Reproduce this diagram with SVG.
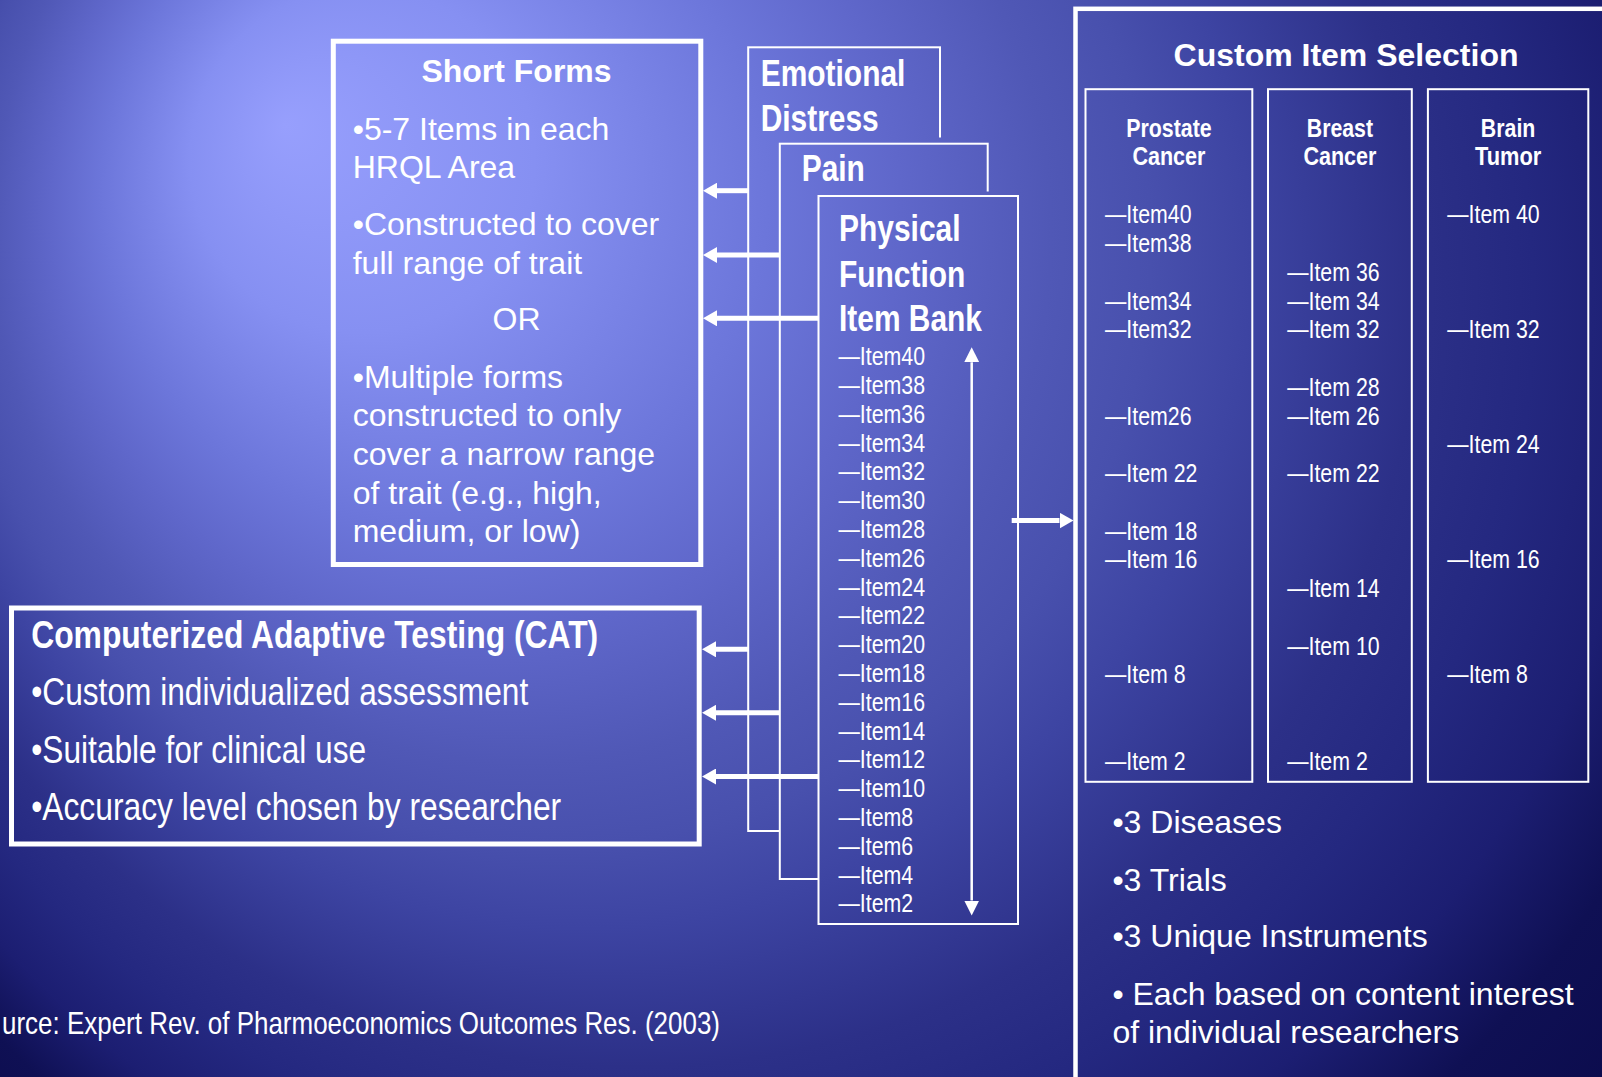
<svg xmlns="http://www.w3.org/2000/svg" width="1602" height="1077" viewBox="0 0 1602 1077">
  <defs>
    <!-- slide background: bright spot upper left, fading to navy -->
    <radialGradient id="bg" gradientUnits="userSpaceOnUse" cx="800" cy="360" r="1150" fx="285" fy="125">
      <stop offset="0" stop-color="#979ffd"/>
      <stop offset="0.15" stop-color="#8690f2"/>
      <stop offset="0.29" stop-color="#6c76da"/>
      <stop offset="0.37" stop-color="#5f67ca"/>
      <stop offset="0.46" stop-color="#5058b6"/>
      <stop offset="0.52" stop-color="#4850ad"/>
      <stop offset="0.58" stop-color="#3d44a2"/>
      <stop offset="0.68" stop-color="#2c3088"/>
      <stop offset="0.75" stop-color="#242880"/>
      <stop offset="0.82" stop-color="#1c1e72"/>
      <stop offset="0.89" stop-color="#0f1054"/>
      <stop offset="1" stop-color="#0a0a4a"/>
    </radialGradient>
    <marker id="head" viewBox="0 0 14 16" refX="0" refY="8" markerWidth="14" markerHeight="16" markerUnits="userSpaceOnUse" orient="auto">
      <path d="M0,0 L14,8 L0,16 Z" fill="#fff"/>
    </marker>
    <marker id="headThin" viewBox="0 0 15 15" refX="0" refY="7.5" markerWidth="15" markerHeight="15" markerUnits="userSpaceOnUse" orient="auto-start-reverse">
      <path d="M0,0 L15,7.5 L0,15 Z" fill="#fff"/>
    </marker>
    <style>
      .t{fill:#fff;font-family:"Liberation Sans",Arial,sans-serif;font-size:32px}
      .n{font-family:"Liberation Sans Narrow","Arial Narrow","Liberation Sans",sans-serif}
      .b{font-weight:bold}
      .c{text-anchor:middle}
      .item{font-size:26px}
      .head{font-size:36.5px}
      .sub{font-size:26px}
      .cat{font-size:38.5px}
      .thick{fill:none;stroke:#fff;stroke-width:5}
      .thin{fill:url(#bg);stroke:#fff;stroke-width:2}
      .box{fill:none;stroke:#fff;stroke-width:2}
      .mask{fill:url(#bg);stroke:none}
      .arrow{fill:none;stroke:#fff;stroke-width:5;marker-end:url(#head)}
    </style>
  </defs>

  <rect width="1602" height="1077" fill="url(#bg)"/>

  <!-- stacked item banks -->
  <g id="emotional-distress">
    <rect class="thin" x="748.2" y="47.3" width="191.8" height="783.7"/>
    <text class="t n b head" x="760.7" y="86" textLength="144.7" lengthAdjust="spacingAndGlyphs">Emotional</text>
    <text class="t n b head" x="760.7" y="131" textLength="118" lengthAdjust="spacingAndGlyphs">Distress</text>
  </g>

  <g id="pain">
    <rect class="mask" x="779.8" y="137.5" width="207.9" height="741.5"/>
    <rect class="thin" x="779.8" y="143.7" width="207.9" height="735.3"/>
    <text class="t n b head" x="801.7" y="180.7" textLength="63.2" lengthAdjust="spacingAndGlyphs">Pain</text>
  </g>

  <g id="physical-function">
    <rect class="mask" x="818.5" y="191.5" width="199.5" height="732.5"/>
    <rect class="thin" x="818.5" y="196" width="199.5" height="728"/>
    <text class="t n b head" x="839" y="240.7" textLength="121.5" lengthAdjust="spacingAndGlyphs">Physical</text>
    <text class="t n b head" x="839" y="286.7" textLength="126.4" lengthAdjust="spacingAndGlyphs">Function</text>
    <text class="t n b head" x="839" y="331" textLength="143" lengthAdjust="spacingAndGlyphs">Item Bank</text>
    <g class="t n item">
      <text x="838.5" y="365.2" textLength="86.5" lengthAdjust="spacingAndGlyphs">—Item40</text>
      <text x="838.5" y="394" textLength="86.5" lengthAdjust="spacingAndGlyphs">—Item38</text>
      <text x="838.5" y="422.8" textLength="86.5" lengthAdjust="spacingAndGlyphs">—Item36</text>
      <text x="838.5" y="451.6" textLength="86.5" lengthAdjust="spacingAndGlyphs">—Item34</text>
      <text x="838.5" y="480.4" textLength="86.5" lengthAdjust="spacingAndGlyphs">—Item32</text>
      <text x="838.5" y="509.2" textLength="86.5" lengthAdjust="spacingAndGlyphs">—Item30</text>
      <text x="838.5" y="538" textLength="86.5" lengthAdjust="spacingAndGlyphs">—Item28</text>
      <text x="838.5" y="566.8" textLength="86.5" lengthAdjust="spacingAndGlyphs">—Item26</text>
      <text x="838.5" y="595.6" textLength="86.5" lengthAdjust="spacingAndGlyphs">—Item24</text>
      <text x="838.5" y="624.4" textLength="86.5" lengthAdjust="spacingAndGlyphs">—Item22</text>
      <text x="838.5" y="653.2" textLength="86.5" lengthAdjust="spacingAndGlyphs">—Item20</text>
      <text x="838.5" y="682" textLength="86.5" lengthAdjust="spacingAndGlyphs">—Item18</text>
      <text x="838.5" y="710.8" textLength="86.5" lengthAdjust="spacingAndGlyphs">—Item16</text>
      <text x="838.5" y="739.6" textLength="86.5" lengthAdjust="spacingAndGlyphs">—Item14</text>
      <text x="838.5" y="768.4" textLength="86.5" lengthAdjust="spacingAndGlyphs">—Item12</text>
      <text x="838.5" y="797.2" textLength="86.5" lengthAdjust="spacingAndGlyphs">—Item10</text>
      <text x="838.5" y="826" textLength="74.6" lengthAdjust="spacingAndGlyphs">—Item8</text>
      <text x="838.5" y="854.8" textLength="74.6" lengthAdjust="spacingAndGlyphs">—Item6</text>
      <text x="838.5" y="883.6" textLength="74.6" lengthAdjust="spacingAndGlyphs">—Item4</text>
      <text x="838.5" y="912.4" textLength="74.6" lengthAdjust="spacingAndGlyphs">—Item2</text>
    </g>
  </g>

  <g id="short-forms">
    <rect class="thick" x="333.3" y="41.2" width="367.5" height="523.3"/>
    <text class="t b c" x="516.5" y="82.3">Short Forms</text>
    <text class="t" x="352.7" y="139.5">•5-7 Items in each</text>
    <text class="t" x="352.7" y="178">HRQL Area</text>
    <text class="t" x="352.7" y="234.9">•Constructed to cover</text>
    <text class="t" x="352.7" y="273.5">full range of trait</text>
    <text class="t c" x="516.5" y="330.3">OR</text>
    <text class="t" x="352.7" y="388">•Multiple forms</text>
    <text class="t" x="352.7" y="426">constructed to only</text>
    <text class="t" x="352.7" y="464.6">cover a narrow range</text>
    <text class="t" x="352.7" y="503.5">of trait (e.g., high,</text>
    <text class="t" x="352.7" y="542">medium, or low)</text>
  </g>

  <g id="cat">
    <rect class="thick" x="11.5" y="608" width="687.7" height="236"/>
    <text class="t n b cat" x="31.2" y="648.3" textLength="567" lengthAdjust="spacingAndGlyphs">Computerized Adaptive Testing (CAT)</text>
    <text class="t n cat" x="31.2" y="705" textLength="497" lengthAdjust="spacingAndGlyphs">•Custom individualized assessment</text>
    <text class="t n cat" x="31.2" y="762.7" textLength="335" lengthAdjust="spacingAndGlyphs">•Suitable for clinical use</text>
    <text class="t n cat" x="31.2" y="820" textLength="530" lengthAdjust="spacingAndGlyphs">•Accuracy level chosen by researcher</text>
  </g>

  <g id="custom-item-selection">
    <rect fill="none" stroke="#fff" stroke-width="4.5" x="1075.5" y="8.8" width="700" height="1200"/>
    <text class="t b c" x="1346" y="65.7">Custom Item Selection</text>

    <g id="prostate-cancer">
      <rect class="box" x="1085.5" y="89.2" width="166.8" height="692.6"/>
      <text class="t n b sub c" x="1168.9" y="136.7" textLength="85.5" lengthAdjust="spacingAndGlyphs">Prostate</text>
      <text class="t n b sub c" x="1168.9" y="165" textLength="73" lengthAdjust="spacingAndGlyphs">Cancer</text>
      <text class="t n item" x="1105" y="223.2" textLength="86.5" lengthAdjust="spacingAndGlyphs">—Item40</text>
      <text class="t n item" x="1105" y="252" textLength="86.5" lengthAdjust="spacingAndGlyphs">—Item38</text>
      <text class="t n item" x="1105" y="309.5" textLength="86.5" lengthAdjust="spacingAndGlyphs">—Item34</text>
      <text class="t n item" x="1105" y="338.2" textLength="86.5" lengthAdjust="spacingAndGlyphs">—Item32</text>
      <text class="t n item" x="1105" y="424.5" textLength="86.5" lengthAdjust="spacingAndGlyphs">—Item26</text>
      <text class="t n item" x="1105" y="482" textLength="92.4" lengthAdjust="spacingAndGlyphs">—Item 22</text>
      <text class="t n item" x="1105" y="539.6" textLength="92.4" lengthAdjust="spacingAndGlyphs">—Item 18</text>
      <text class="t n item" x="1105" y="568.3" textLength="92.4" lengthAdjust="spacingAndGlyphs">—Item 16</text>
      <text class="t n item" x="1105" y="683.4" textLength="80.6" lengthAdjust="spacingAndGlyphs">—Item 8</text>
      <text class="t n item" x="1105" y="769.6" textLength="80.6" lengthAdjust="spacingAndGlyphs">—Item 2</text>
    </g>

    <g id="breast-cancer">
      <rect class="box" x="1268" y="89.2" width="143.8" height="692.6"/>
      <text class="t n b sub c" x="1339.9" y="136.7" textLength="66.3" lengthAdjust="spacingAndGlyphs">Breast</text>
      <text class="t n b sub c" x="1339.9" y="165" textLength="73" lengthAdjust="spacingAndGlyphs">Cancer</text>
      <text class="t n item" x="1287.2" y="280.7" textLength="92.4" lengthAdjust="spacingAndGlyphs">—Item 36</text>
      <text class="t n item" x="1287.2" y="309.5" textLength="92.4" lengthAdjust="spacingAndGlyphs">—Item 34</text>
      <text class="t n item" x="1287.2" y="338.2" textLength="92.4" lengthAdjust="spacingAndGlyphs">—Item 32</text>
      <text class="t n item" x="1287.2" y="395.8" textLength="92.4" lengthAdjust="spacingAndGlyphs">—Item 28</text>
      <text class="t n item" x="1287.2" y="424.5" textLength="92.4" lengthAdjust="spacingAndGlyphs">—Item 26</text>
      <text class="t n item" x="1287.2" y="482" textLength="92.4" lengthAdjust="spacingAndGlyphs">—Item 22</text>
      <text class="t n item" x="1287.2" y="597.1" textLength="92.4" lengthAdjust="spacingAndGlyphs">—Item 14</text>
      <text class="t n item" x="1287.2" y="654.6" textLength="92.4" lengthAdjust="spacingAndGlyphs">—Item 10</text>
      <text class="t n item" x="1287.2" y="769.6" textLength="80.6" lengthAdjust="spacingAndGlyphs">—Item 2</text>
    </g>

    <g id="brain-tumor">
      <rect class="box" x="1427.9" y="89.2" width="160.4" height="692.6"/>
      <text class="t n b sub c" x="1508.1" y="136.7" textLength="54.5" lengthAdjust="spacingAndGlyphs">Brain</text>
      <text class="t n b sub c" x="1508.1" y="165" textLength="66.3" lengthAdjust="spacingAndGlyphs">Tumor</text>
      <text class="t n item" x="1447.3" y="223.2" textLength="92.4" lengthAdjust="spacingAndGlyphs">—Item 40</text>
      <text class="t n item" x="1447.3" y="338.2" textLength="92.4" lengthAdjust="spacingAndGlyphs">—Item 32</text>
      <text class="t n item" x="1447.3" y="453.3" textLength="92.4" lengthAdjust="spacingAndGlyphs">—Item 24</text>
      <text class="t n item" x="1447.3" y="568.3" textLength="92.4" lengthAdjust="spacingAndGlyphs">—Item 16</text>
      <text class="t n item" x="1447.3" y="683.4" textLength="80.6" lengthAdjust="spacingAndGlyphs">—Item 8</text>
    </g>

    <text class="t" x="1112.4" y="833.3">•3 Diseases</text>
    <text class="t" x="1112.4" y="891">•3 Trials</text>
    <text class="t" x="1112.4" y="946.7">•3 Unique Instruments</text>
    <text class="t" x="1112.4" y="1005">• Each based on content interest</text>
    <text class="t" x="1112.4" y="1043.3">of individual researchers</text>
  </g>

  <g id="source">
    <text class="t n" x="2" y="1034" font-size="31.5" textLength="718" lengthAdjust="spacingAndGlyphs">urce: Expert Rev. of Pharmoeconomics Outcomes Res. (2003)</text>
  </g>

  <g id="connectors">
    <!-- item banks feeding short forms -->
    <path class="arrow" d="M748.2,190.7 H717"/>
    <path class="arrow" d="M779.8,255 H717"/>
    <path class="arrow" d="M818.5,318.3 H717"/>
    <!-- item banks feeding CAT -->
    <path class="arrow" d="M748.2,649.3 H716"/>
    <path class="arrow" d="M779.8,712.8 H716"/>
    <path class="arrow" d="M818.5,776.5 H716"/>
    <!-- item bank to custom selection -->
    <path class="arrow" d="M1011.7,520.6 H1059.5"/>
    <!-- trait range -->
    <path fill="none" stroke="#fff" stroke-width="2.5" marker-start="url(#headThin)" marker-end="url(#headThin)" d="M971.7,362.2 V900.5"/>
  </g>
</svg>
